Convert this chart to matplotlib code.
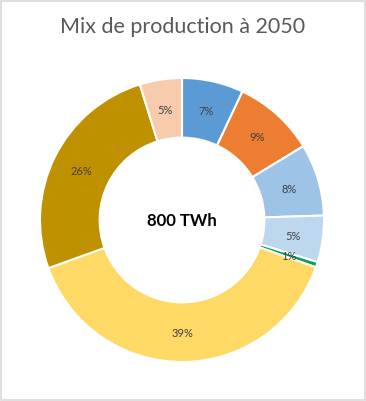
import matplotlib
matplotlib.use("Agg")
import matplotlib.pyplot as plt
from matplotlib.patches import Rectangle

# parts of the 2050 production mix (%), clockwise from the top
parts = [7.0, 9.3, 8.2, 5.3, 0.6, 39.1, 25.7, 4.8]
colors = ["#5B9BD5", "#ED7D31", "#9DC3E6", "#BDD7EE", "#00A651",
          "#FFD966", "#BF9000", "#F8CBAD"]
title = "Mix de production à 2050"
centre_text = "800 TWh"

plt.rcParams['font.family'] = ['Lato', 'DejaVu Sans']

W, H = 366, 402
fig = plt.figure(figsize=(W / 100, H / 100), dpi=100)

cx, cy, r = 182, 221, 142
ax = fig.add_axes([(cx - r) / W, (H - cy - r) / H, 2 * r / W, 2 * r / H])

wedges, texts, autotexts = ax.pie(
    parts, colors=colors, startangle=90, counterclock=False,
    radius=1, autopct="%.0f%%", pctdistance=0.79,
    wedgeprops=dict(width=0.42, edgecolor="white", linewidth=1.5),
    textprops=dict(fontsize=8, color="#404040"))
ax.set_xlim(-1, 1)
ax.set_ylim(-1, 1)
ax.set_aspect("equal")
ax.axis("off")

ax.text(0, 0, centre_text, ha="center", va="center",
        fontsize=12, fontweight="bold", color="black")

fig.text(0.5, 1 - 27 / H, title, ha="center", va="center",
         fontsize=15.5, color="#595959")

fig.patches.append(Rectangle((1 / W, 1 / H), 1 - 2.5 / W, 1 - 2.5 / H,
                             transform=fig.transFigure, fill=False,
                             edgecolor="#D9D9D9", linewidth=1.2))

fig.savefig("out.png", dpi=100)
